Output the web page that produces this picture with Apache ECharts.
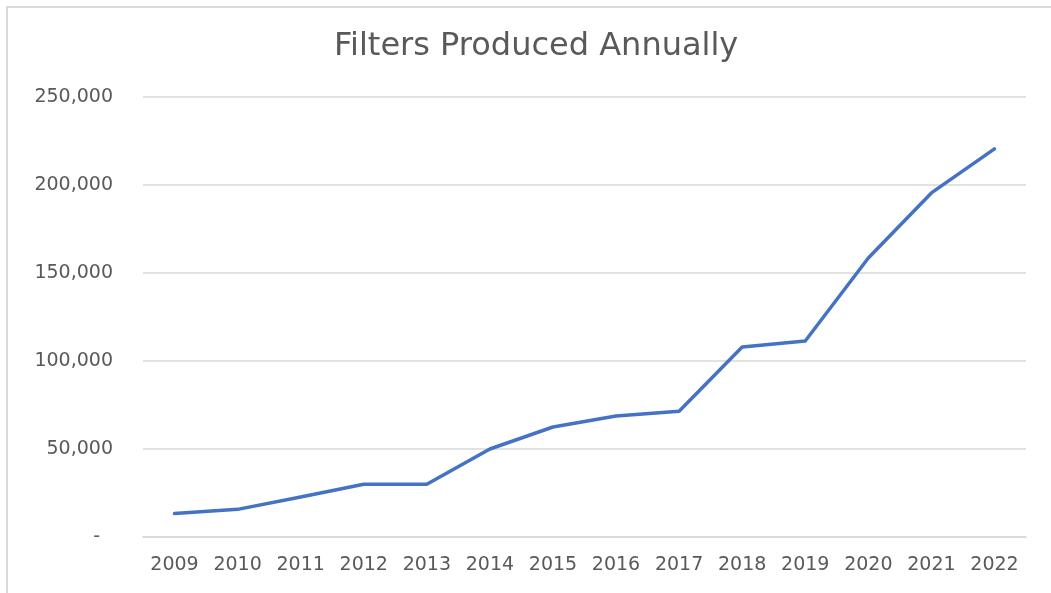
<!DOCTYPE html>
<html>
<head>
<meta charset="utf-8">
<script src="https://cdn.jsdelivr.net/npm/echarts@6/dist/echarts.min.js"></script>
<style>
html,body{margin:0;padding:0;background:#fff;}
#c{width:1051px;height:593px;}
</style>
</head>
<body>
<div id="c"></div>
<script>
const years = ['2009','2010','2011','2012','2013','2014','2015','2016','2017','2018','2019','2020','2021','2022'];
const filters = [13300, 15700, 22700, 30000, 30000, 50000, 62500, 68800, 71400, 108000, 111400, 158500, 195500, 220500];
const yTicks = {min: 0, max: 250000, interval: 50000};

const chart = echarts.init(document.getElementById('c'));
chart.setOption({
  animation: false,
  backgroundColor: '#ffffff',
  graphic: [{
    type: 'rect', silent: true,
    shape: {x: 7, y: 7, width: 1200, height: 800},
    style: {fill: 'none', stroke: '#d9d9d9', lineWidth: 2}
  }],
  title: {
    text: 'Filters Produced Annually',
    left: 329, top: 26,
    textStyle: {fontFamily: 'DejaVu Sans', fontSize: 32, fontWeight: 'normal', color: '#595959'}
  },
  grid: {left: 143, right: 25, top: 97, bottom: 56},
  xAxis: {
    type: 'category', data: years, boundaryGap: true,
    axisLine: {show: true, lineStyle: {color: '#d9d9d9', width: 1.5}},
    axisTick: {show: false},
    axisLabel: {fontFamily: 'DejaVu Sans', fontSize: 19, color: '#595959', margin: 19}
  },
  yAxis: {
    type: 'value', min: yTicks.min, max: yTicks.max, interval: yTicks.interval,
    axisLine: {show: false}, axisTick: {show: false},
    splitLine: {lineStyle: {color: '#d9d9d9', width: 1.5}},
    axisLabel: {
      fontFamily: 'DejaVu Sans', fontSize: 19, color: '#595959', margin: 30,
      formatter: v => v === 0 ? '{z|-}' : v.toLocaleString('en-US'),
      rich: {z: {fontFamily: 'DejaVu Sans', fontSize: 19, color: '#595959', padding: [0, 13, 0, 0]}}
    }
  },
  series: [{
    type: 'line', data: filters, symbol: 'none',
    lineStyle: {color: '#4472C4', width: 3.5, cap: 'round', join: 'round'},
    itemStyle: {color: '#4472C4'}
  }]
});
</script>
</body>
</html>
